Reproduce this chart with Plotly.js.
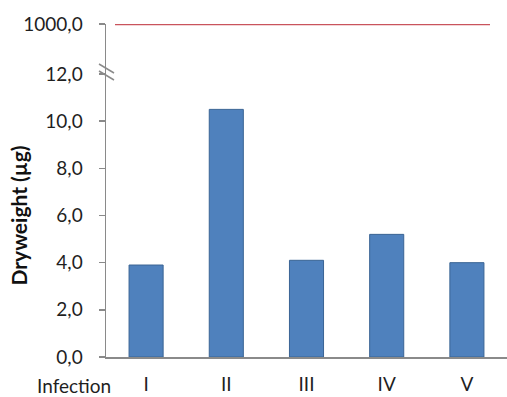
<!DOCTYPE html>
<html>
<head>
<meta charset="utf-8">
<script src="https://cdn.plot.ly/plotly-3.0.1.min.js"></script>
<style>
  html, body { margin: 0; padding: 0; background: #fff; }
  #chart { width: 507px; height: 397px; }
</style>
</head>
<body>
<div id="chart"></div>
<script>
// Dry weight per infection round, with the control level on a broken axis
const infections = ['I', 'II', 'III', 'IV', 'V'];
const dryweight = [3.9, 10.5, 4.1, 5.2, 4.0];
const controlLevel = 1000.0;
const lowerTicks = [0, 2, 4, 6, 8, 10, 12];
const upperTicks = [controlLevel];

const axisGrey = '#8a8a8a';
const textColor = '#1f1f1f';
const font = 'Lato, "Open Sans", sans-serif';
const fs = 19;

// paper-coordinate helpers for the 401x333 plot area
const W = 401, H = 333, L = 106, B = 357;
const px = x => (x - L) / W;
const py = y => (B - y) / H;

const bars = {
  type: 'bar',
  x: infections,
  y: dryweight,
  marker: { color: '#4f81bd', line: { color: '#3a6494', width: 1 } },
  hoverinfo: 'x+y'
};

const valueAxis = {
  tickformat: '.1f',
  showline: true,
  linecolor: axisGrey,
  linewidth: 1.5,
  ticks: 'outside',
  ticklen: 6,
  tickcolor: axisGrey,
  tickwidth: 1.5,
  ticklabelposition: 'outside',
  ticklabelstandoff: 12,
  showgrid: false,
  zeroline: false,
  tickfont: { family: font, size: fs, color: textColor }
};

const layout = {
  width: 507,
  height: 397,
  margin: { l: L, r: 0, t: 24, b: 40 },
  paper_bgcolor: '#ffffff',
  plot_bgcolor: '#ffffff',
  separators: ',.',
  showlegend: false,
  bargap: 0.575,
  font: { family: font, size: fs, color: textColor },
  xaxis: {
    type: 'category',
    range: [-0.5, 4.5],
    showline: true,
    linecolor: axisGrey,
    linewidth: 1.5,
    ticks: '',
    showgrid: false,
    zeroline: false,
    ticklabelstandoff: 10,
    tickfont: { family: font, size: fs, color: textColor }
  },
  yaxis: Object.assign({}, valueAxis, {
    domain: [0, py(74)],
    range: [0, 12],
    tickvals: lowerTicks,
    title: {
      text: 'Dryweight (µg)',
      font: { family: font, size: 21, color: '#111', weight: 'bold' },
      standoff: 12
    }
  }),
  yaxis2: Object.assign({}, valueAxis, {
    domain: [py(74), 1],
    range: [990, controlLevel],
    tickvals: upperTicks,
    anchor: 'x'
  }),
  shapes: [
    // control level
    {
      type: 'line', xref: 'paper', yref: 'y2',
      x0: px(115), x1: px(490), y0: controlLevel, y1: controlLevel,
      line: { color: '#c9545c', width: 2.5 }
    },
    // axis break marks
    {
      type: 'line', xref: 'paper', yref: 'paper',
      x0: px(99), y0: py(64), x1: px(114), y1: py(73),
      line: { color: axisGrey, width: 1.5 }
    },
    {
      type: 'line', xref: 'paper', yref: 'paper',
      x0: px(99), y0: py(71), x1: px(114), y1: py(80),
      line: { color: axisGrey, width: 1.5 }
    }
  ],
  annotations: [
    {
      text: 'Infection', xref: 'paper', yref: 'paper',
      x: px(113), y: py(385), xanchor: 'right', yanchor: 'middle',
      showarrow: false,
      font: { family: font, size: fs, color: textColor }
    }
  ]
};

Plotly.newPlot('chart', [bars], layout, { displayModeBar: false, staticPlot: true });
</script>
</body>
</html>
